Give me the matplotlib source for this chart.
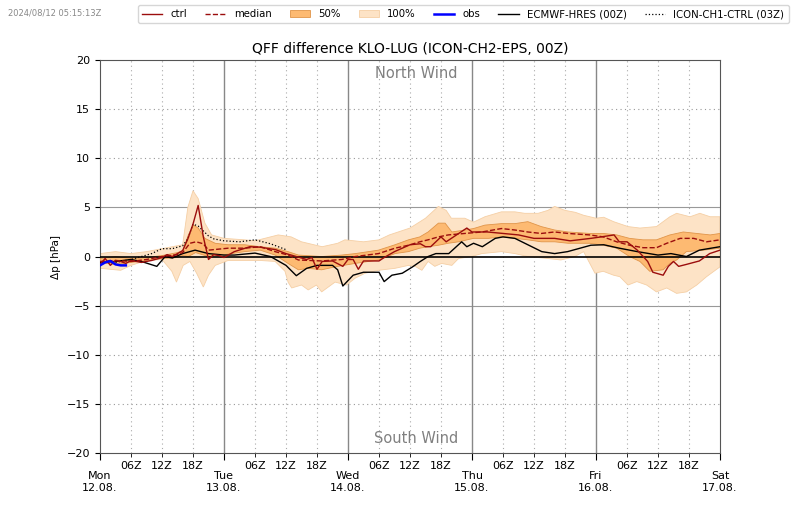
import numpy as np
import matplotlib.pyplot as plt

# hours since Mon 12.08. 00Z
day_labels = ["Mon\n12.08.", "Tue\n13.08.", "Wed\n14.08.", "Thu\n15.08.", "Fri\n16.08.", "Sat\n17.08."]
hour_labels = ["06Z", "12Z", "18Z"]

# 100% band
p100_hi_t = [0, 3, 6, 9, 12, 16, 17, 18, 19, 20.3, 21.6, 24, 28, 30, 34.5, 37, 39, 43, 46, 47.4, 51, 54, 56, 60, 63, 65.5, 67, 68, 70.6, 72.3, 74.5, 77.7, 80.3, 82.2, 84.8, 86.7, 88, 90, 92, 93.6, 96, 97.5, 99.4, 102.2, 104.5, 107.7, 110.3, 111.6, 114.2, 116.1, 118.1, 120]
p100_hi = [0.3, 0.5, 0.3, 0.5, 0.8, 1.2, 5.0, 6.7, 5.9, 3.4, 2.2, 1.85, 1.7, 1.6, 2.2, 2.0, 1.5, 1.0, 1.35, 1.7, 1.5, 1.7, 2.2, 2.9, 3.9, 5.1, 4.7, 3.9, 3.9, 3.5, 4.05, 4.55, 4.55, 4.4, 4.4, 4.7, 5.1, 4.7, 4.5, 4.2, 3.9, 4.0, 3.55, 3.05, 2.9, 3.05, 4.05, 4.4, 4.05, 4.4, 4.05, 4.05]
p100_lo_t = [0, 2, 4, 6, 9, 12, 13.9, 14.8, 16.1, 17.4, 18.7, 20, 21, 22.3, 24.8, 31, 33.9, 35.8, 36.4, 37.1, 39, 40.3, 41.9, 42.9, 45.5, 47.7, 49.4, 51.3, 53.9, 57.1, 59.7, 61, 62.3, 63.5, 64.8, 66.1, 68.1, 69.4, 71.9, 73.9, 77.7, 80.3, 82.8, 86.7, 89.2, 91.9, 93.6, 95.8, 97.4, 99.4, 100.6, 102.2, 103.9, 105.8, 107.7, 109.7, 111.6, 113.5, 115.5, 117.4, 120]
p100_lo = [-1.2, -1.3, -1.4, -0.9, -0.4, -0.3, -1.5, -2.6, -0.9, -0.5, -1.7, -3.1, -1.9, -0.9, -0.4, -0.4, -0.5, -1.5, -2.6, -3.2, -2.9, -3.4, -2.9, -3.6, -2.6, -2.9, -2.2, -1.7, -1.4, -1.2, -0.9, -1.0, -1.4, -0.5, -1.0, -0.7, -0.9, -0.2, 0.0, 0.3, 0.5, 0.3, 0.0, -0.2, -0.35, 0.0, 0.5, -1.7, -1.5, -1.9, -2.05, -2.9, -2.55, -2.9, -3.6, -3.2, -3.75, -3.6, -2.9, -2.05, -1.05]

# 50% band
p50_hi_t = [0, 3, 6, 9, 12, 15, 16, 17.1, 18.1, 19, 20.3, 22.3, 24.8, 28, 31, 33.9, 36.4, 38.4, 42.9, 46.8, 49.4, 53.9, 57.1, 59.7, 61.9, 63.5, 65.5, 66.8, 68.1, 70.6, 72.3, 74.5, 77.7, 80.3, 82.8, 85.4, 88, 90.6, 94.8, 97.4, 100, 102.5, 105.1, 107.7, 110.3, 112.9, 115.5, 118.1, 120]
p50_hi = [-0.2, 0.0, -0.2, -0.1, 0.1, 0.4, 0.6, 2.2, 3.2, 2.9, 1.85, 1.35, 1.2, 1.2, 1.0, 0.85, 0.5, 0.15, 0.0, 0.15, 0.3, 0.65, 1.2, 1.7, 2.0, 2.5, 3.4, 3.4, 2.5, 2.7, 2.85, 3.2, 3.35, 3.35, 3.55, 3.05, 2.7, 2.5, 2.35, 2.35, 2.2, 1.85, 1.7, 1.7, 2.2, 2.5, 2.35, 2.2, 2.35]
p50_lo_t = [0, 3, 6, 9, 12, 15, 16, 17.1, 18.5, 21, 23.6, 28, 31, 33.9, 36.4, 38.4, 40.3, 42.9, 45.5, 47.7, 49.4, 53.9, 57.1, 59.7, 61.9, 63.5, 65.5, 67.4, 69.4, 72.3, 75.2, 77.7, 80.3, 82.8, 85.4, 88, 90.6, 94.8, 97.4, 100, 102.5, 104.5, 106.4, 109, 110.3, 111.6, 113.5, 116.8, 120]
p50_lo = [-0.6, -0.8, -0.6, -0.4, -0.2, -0.1, 0.1, 0.0, 0.4, 0.0, 0.15, 0.5, 0.65, 0.15, -0.7, -1.35, -1.2, -1.35, -1.05, -0.85, -0.7, -0.35, 0.3, 0.5, 0.85, 1.0, 1.15, 1.35, 1.5, 1.85, 1.85, 2.0, 1.85, 1.7, 1.5, 1.5, 1.35, 1.35, 1.15, 0.85, 0.0, -0.5, -1.5, -1.35, -0.7, -0.35, 0.5, 0.65, 0.85]

median_t = [0, 3, 6, 9, 12, 15, 16, 17.4, 18.6, 20, 21, 24.8, 28, 31, 33.9, 36.4, 38.4, 42.9, 46.8, 49.4, 53.9, 57.1, 59.7, 61.9, 63.5, 65.5, 67.4, 70.6, 73.9, 77.7, 80.3, 82.8, 85.4, 88, 90.6, 94.8, 97.4, 100, 102.5, 105.1, 107.7, 109.7, 112.3, 114.9, 117.4, 120]
median = [-0.5, -0.4, -0.5, -0.3, 0.0, 0.2, 0.4, 1.35, 1.5, 1.3, 0.65, 0.85, 0.85, 1.0, 0.5, 0.15, -0.35, -0.45, -0.3, 0.0, 0.3, 0.85, 1.15, 1.5, 1.7, 2.0, 2.2, 2.35, 2.5, 2.85, 2.7, 2.5, 2.35, 2.5, 2.35, 2.2, 2.0, 1.5, 1.15, 0.9, 0.9, 1.35, 1.85, 1.85, 1.5, 1.7]

ctrl_t = [0, 1, 2, 3, 4, 5, 6, 8, 10, 12, 13, 14, 15, 16, 17, 18, 19, 20, 21, 22, 23, 24, 26, 29, 31, 34, 36, 38, 40, 41, 42, 43, 45, 47, 48, 49, 50, 51, 54, 55, 57, 60, 62, 63, 64, 66, 67, 69, 71, 72, 75, 78, 81, 84, 88, 91, 95, 97, 99.5, 100.5, 102, 104, 106, 107, 109, 110, 111, 112, 113.5, 116, 118, 120]
ctrl = [-0.8, -0.2, -0.9, -0.4, -0.5, -0.7, -0.4, -0.6, -0.4, -0.1, 0.2, 0.0, 0.3, 0.6, 1.8, 3.3, 5.2, 2.0, -0.3, 0.2, 0.1, -0.1, 0.5, 1.0, 0.95, 0.7, 0.3, 0.0, -0.3, -0.1, -1.3, -0.5, -0.45, -1.0, -0.3, -0.3, -1.3, -0.45, -0.45, -0.1, 0.5, 1.2, 1.3, 1.0, 1.0, 2.0, 1.5, 2.2, 2.9, 2.5, 2.5, 2.35, 2.2, 1.85, 1.85, 1.6, 1.85, 2.0, 2.2, 1.5, 1.5, 0.65, -0.5, -1.6, -1.9, -1.0, -0.5, -1.0, -0.8, -0.45, 0.3, 0.65]

ecmwf_t = [0, 3, 6, 8, 11, 12.6, 14, 16, 18.4, 21, 24, 26, 30, 33, 36, 38, 40, 42, 45, 46, 47, 49, 51, 54, 55, 56.5, 58.5, 60.5, 62, 63.5, 65, 67.5, 70, 71, 72.3, 74, 76.5, 78, 80.3, 83, 85.5, 88, 90.5, 95, 97.5, 100.5, 104, 108, 110.5, 113.5, 116, 120]
ecmwf = [-0.6, -0.5, -0.3, -0.5, -1.0, 0.0, -0.15, 0.3, 0.65, 0.3, 0.15, 0.15, 0.35, 0.0, -0.9, -1.95, -1.2, -0.9, -0.9, -1.35, -3.0, -1.9, -1.6, -1.6, -2.55, -1.9, -1.7, -1.05, -0.5, 0.0, 0.3, 0.3, 1.5, 1.0, 1.35, 1.0, 1.85, 2.0, 1.85, 1.15, 0.5, 0.3, 0.5, 1.15, 1.2, 0.85, 0.5, 0.15, 0.3, 0.0, 0.65, 1.0]

ch1_t = [3, 4, 6, 8, 10, 12, 14, 16, 17, 18, 19, 20, 21, 22, 24, 27, 30, 33, 35, 36]
ch1 = [-0.6, -0.5, -0.3, 0.0, 0.3, 0.8, 0.8, 1.1, 1.8, 3.3, 3.1, 2.6, 2.1, 1.8, 1.6, 1.5, 1.7, 1.3, 0.9, 0.7]

obs_t = [0, 1, 2, 3, 4, 5]
obs = [-0.9, -0.6, -0.45, -0.8, -0.9, -0.9]

fig = plt.figure(figsize=(8, 5.09), dpi=100)
ax = fig.add_axes([0.125, 0.110, 0.775, 0.772])

c100 = '#fde3c6'
c50 = '#fdba72'
cred = '#9b0d0d'

ax.fill(np.r_[p100_hi_t, p100_lo_t[::-1]], np.r_[p100_hi, p100_lo[::-1]],
        facecolor=c100, edgecolor='#f5cfa5', lw=0.6, label='100%', zorder=2)
ax.fill(np.r_[p50_hi_t, p50_lo_t[::-1]], np.r_[p50_hi, p50_lo[::-1]],
        facecolor=c50, edgecolor='#e0954a', lw=0.6, label='50%', zorder=3)
ax.axhline(0, color='black', lw=1.2, zorder=4)
ax.plot(ctrl_t, ctrl, color=cred, lw=1.0, label='ctrl', zorder=6)
ax.plot(median_t, median, color=cred, lw=1.0, ls='--', label='median', zorder=6)
ax.plot(obs_t, obs, color='blue', lw=1.8, label='obs', zorder=8)
ax.plot(ecmwf_t, ecmwf, color='black', lw=1.0, label='ECMWF-HRES (00Z)', zorder=5)
ax.plot(ch1_t, ch1, color='black', lw=0.9, ls=':', label='ICON-CH1-CTRL (03Z)', zorder=5)

ax.set_xlim(0, 120)
ax.set_ylim(-20, 20)
ax.set_yticks(np.arange(-20, 21, 5))
for v in np.arange(-15, 20, 5):
    if v == 0:
        continue
    if abs(v) == 5:
        ax.axhline(v, color='#999999', lw=0.8, zorder=1)
    else:
        ax.axhline(v, color='#999999', lw=0.8, ls=(0, (1, 3)), zorder=1)

ax.set_xticks(np.arange(0, 121, 24))
ax.set_xticklabels(day_labels)
minor = [h for h in range(6, 120, 6) if h % 24 != 0]
ax.set_xticks(minor, minor=True)
ax.set_xticklabels([hour_labels[(h % 24) // 6 - 1] for h in minor], minor=True)
for d in range(24, 120, 24):
    ax.axvline(d, color='#888888', lw=1.0, zorder=1)
for h in minor:
    ax.axvline(h, color='#aaaaaa', lw=0.8, ls=(0, (1, 3)), zorder=1)

ax.tick_params(axis='x', which='major', pad=8, labelsize=8, length=5)
ax.tick_params(axis='x', which='minor', pad=3, labelsize=8, length=3)
ax.tick_params(axis='y', labelsize=8)
for s in ax.spines.values():
    s.set_color('#555555')

ax.set_ylabel('Δp [hPa]', fontsize=7.5)
ax.set_title('QFF difference KLO-LUG (ICON-CH2-EPS, 00Z)', fontsize=10, pad=5)
ax.text(0.51, 0.967, 'North Wind', transform=ax.transAxes, ha='center', va='center',
        fontsize=10.5, color='#808080')
ax.text(0.51, 0.038, 'South Wind', transform=ax.transAxes, ha='center', va='center',
        fontsize=10.5, color='#808080')

fig.text(0.01, 0.975, '2024/08/12 05:15:13Z', fontsize=6, color='#888888', va='center')

h, l = ax.get_legend_handles_labels()
order = ['ctrl', 'median', '50%', '100%', 'obs', 'ECMWF-HRES (00Z)', 'ICON-CH1-CTRL (03Z)']
hd = dict(zip(l, h))
fig.legend([hd[k] for k in order], order, ncol=7, loc='upper right',
           bbox_to_anchor=(0.992, 1.0), fontsize=7.3, frameon=True,
           handlelength=2.0, columnspacing=1.8, borderpad=0.4)

fig.savefig('out.png', dpi=100)
